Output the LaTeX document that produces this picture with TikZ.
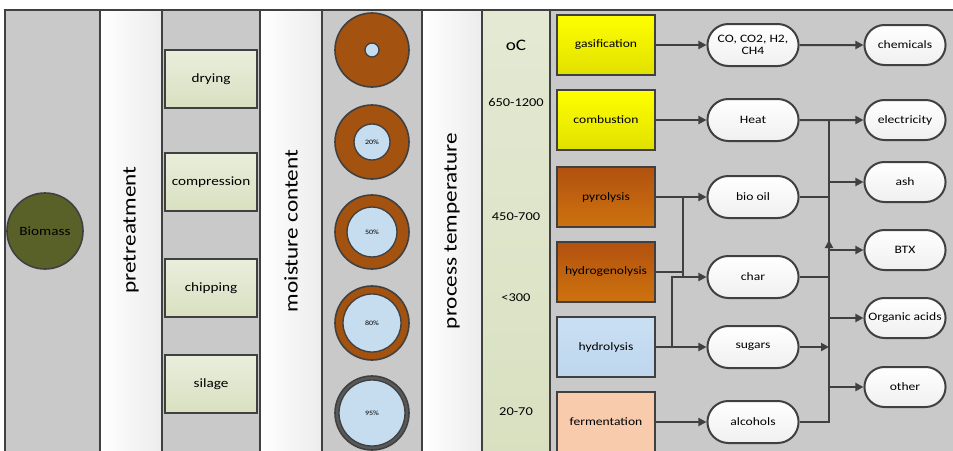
\documentclass[tikz,border=0pt]{standalone}
\usepackage{fontspec}
\setmainfont{Carlito}[FakeStretch=1.2]
\usepackage{xcolor}
\usepackage{tikz}
\usetikzlibrary{positioning,arrows.meta,shapes,calc}

\definecolor{bgray}{HTML}{C9C9C9}
\definecolor{edge}{HTML}{404040}
\definecolor{olivefill}{HTML}{5A6128}
\definecolor{pale}{HTML}{D8E0C0}
\definecolor{brownring}{HTML}{A3520F}
\definecolor{water}{HTML}{C6DCEF}
\definecolor{orangebox}{HTML}{C55A11}
\definecolor{bluebox}{HTML}{BDD7EE}
\definecolor{peach}{HTML}{F8CBAD}

\begin{document}
\begin{tikzpicture}[x=0.75pt, y=-0.75pt,
    column/.style={draw=edge, line width=1.5pt},
    title/.style={rotate=90, font=\fontsize{14.5}{16}\selectfont},
    pbox/.style={rectangle, draw=edge, line width=1.5pt, top color=pale!55, bottom color=pale,
        minimum width=69pt, minimum height=43.5pt, font=\fontsize{9.5}{11}\selectfont},
    temp/.style={font=\fontsize{9}{10}\selectfont},
    outer/.style={circle, draw=edge, line width=1.2pt, fill=brownring, minimum size=55.5pt},
    inner/.style={circle, draw=edge, line width=1pt, fill=water, font=\fontsize{5}{6}\selectfont, inner sep=0pt},
    proc/.style={rectangle, draw=edge, line width=1.5pt, minimum width=74pt, minimum height=45pt,
        font=\fontsize{8.5}{10}\selectfont},
    prod/.style={rounded rectangle, draw=edge, line width=1.5pt, top color=white, bottom color=gray!12,
        minimum width=75pt, minimum height=31.5pt, font=\fontsize{8.5}{9.5}\selectfont, align=center},
    final/.style={prod, minimum width=67.5pt, minimum height=30pt},
    line/.style={draw=edge, line width=1.5pt},
    arr/.style={line, -{Triangle[length=6pt,width=6pt]}}
]
\clip (0,0) rectangle (953,450);

\draw[column, fill=bgray] (5,10) rectangle (970,470);
\draw[column, left color=white, right color=gray!15] (100,10) rectangle (162,470);
\draw[column, left color=white, right color=gray!15] (260,10) rectangle (322,470);
\draw[column, left color=white, right color=gray!15] (422,10) rectangle (482,470);
\draw[column, top color=pale!70, bottom color=pale] (482,10) rectangle (550,470);

\node[title] (pretitle) at (131,230) {pretreatment};
\node[title] (moisttitle) at (291,231) {moisture content};
\node[title] (temptitle) at (452,231) {process temperature};

\node[circle, draw=edge, line width=1.2pt, fill=olivefill, minimum size=57pt,
    font=\fontsize{9.5}{11}\selectfont] (biomass) at (45,231) {Biomass};

\node[pbox] (drying) at (211,79) {drying};
\node[pbox] (compression) at (211,182) {compression};
\node[pbox] (chipping) at (211,288) {chipping};
\node[pbox] (silage) at (211,384) {silage};

\node[outer] (m1) at (372,50) {};
\node[inner, minimum size=10.5pt] at (m1.center) {};
\node[outer] (m2) at (372,142) {};
\node[inner, minimum size=27pt] at (m2.center) {20\%};
\node[outer] (m3) at (372,232) {};
\node[inner, minimum size=37.5pt] at (m3.center) {50\%};
\node[outer] (m4) at (372,323) {};
\node[inner, minimum size=43.5pt] at (m4.center) {80\%};
\node[outer, fill=gray!70!black] (m5) at (372,413) {};
\node[inner, minimum size=49.5pt] at (m5.center) {95\%};

\node[font=\fontsize{12}{13}\selectfont] (unit) at (516,45) {oC};
\node[temp] (t1) at (516,102) {650-1200};
\node[temp] (t2) at (516,217) {450-700};
\node[temp] (t3) at (516,298) {<300};
\node[temp] (t4) at (516,412) {20-70};

\node[proc, top color=yellow, bottom color=yellow!88!black] (gas) at (606,45) {gasification};
\node[proc, top color=yellow, bottom color=yellow!88!black] (comb) at (606,120) {combustion};
\node[proc, top color=orangebox!90!black, bottom color=orangebox!85!yellow] (pyro) at (606,197) {pyrolysis};
\node[proc, top color=orangebox!90!black, bottom color=orangebox!85!yellow] (hydrog) at (606,272) {hydrogenolysis};
\node[proc, top color=bluebox!80, bottom color=bluebox] (hydrol) at (606,347) {hydrolysis};
\node[proc, fill=peach] (ferm) at (606,422) {fermentation};

\node[prod] (co) at (753,45) {CO, CO2, H2,\\CH4};
\node[prod] (heat) at (753,120) {Heat};
\node[prod] (bio) at (753,197) {bio oil};
\node[prod] (char) at (753,277) {char};
\node[prod] (sugars) at (753,347) {sugars};
\node[prod] (alc) at (753,422) {alcohols};

\node[final] (chem) at (905,45) {chemicals};
\node[final] (elec) at (905,120) {electricity};
\node[final] (ash) at (905,182) {ash};
\node[final] (btx) at (905,250) {BTX};
\node[final] (org) at (905,318) {Organic acids};
\node[final] (other) at (905,387) {other};

\coordinate (jpyro) at (683,197);
\coordinate (jhyd) at (672,347);
\coordinate (bus) at (829,120);

\draw[arr] (gas) -- (co);
\draw[arr] (co) -- (chem);
\draw[arr] (comb) -- (heat);
\draw[arr] (heat) -- (elec);
\draw[arr] (pyro) -- (bio);
\draw[line] (jpyro) -- (jpyro |- char.west);
\draw[line] (hydrog.east) -- (hydrog.east -| jpyro);
\draw[arr] (jhyd) |- (char.west);
\draw[arr] (hydrol) -- (sugars);
\draw[arr] (ferm) -- (alc);

\draw[line] (alc.east) -| (bus);
\draw[line] (bio.east) -- (bio.east -| bus);
\draw[line] (char.east) -- (char.east -| bus);
\draw[arr] (sugars.east) -- (sugars.east -| bus);
\draw[arr] (char.east -| bus) -- ++(0,-37);
\draw[arr] (ash.west -| bus) -- (ash.west);
\draw[arr] (btx.west -| bus) -- (btx.west);
\draw[arr] (org.west -| bus) -- (org.west);
\draw[arr] (other.west -| bus) -- (other.west);

\end{tikzpicture}
\end{document}
